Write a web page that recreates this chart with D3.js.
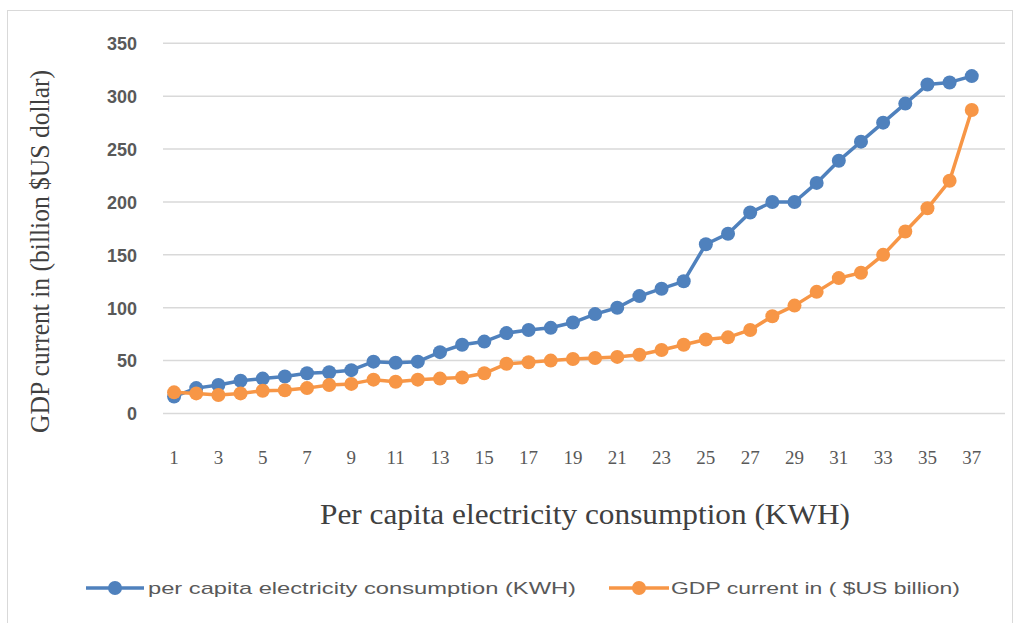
<!DOCTYPE html>
<html>
<head>
<meta charset="utf-8">
<script src="https://cdn.jsdelivr.net/npm/d3@7"></script>
<style>
  body { margin: 0; background: #fff; }
  svg { display: block; }
</style>
</head>
<body>
<div id="chart"></div>
<script>
// categories 1..37, plus the empty trailing row the spreadsheet left in
var categories = ["1","2","3","4","5","6","7","8","9","10","11","12","13","14","15","16","17","18","19",
    "20","21","22","23","24","25","26","27","28","29","30","31","32","33","34","35","36","37",""];
var electricity = [16, 24, 27, 31, 33, 35, 38, 39, 41, 49, 48, 49, 58, 65, 68, 76, 79, 81, 86, 94,
    100, 111, 118, 125, 160, 170, 190, 200, 200, 218, 239, 257, 275, 293, 311, 313, 319];
var gdp = [20, 19, 17.5, 19, 21.5, 22, 24, 27, 28, 32, 30, 32, 33, 34, 38, 47, 48.5, 50, 51.5, 52.5,
    53.5, 55.5, 60, 65, 70, 72, 79, 92, 102, 115, 128, 133, 150, 172, 194, 220, 287];
var yTicks = [0, 50, 100, 150, 200, 250, 300, 350];
var seriesNames = ["per capita electricity consumption (KWH)", "GDP current in ( $US billion)"];
var colors = ["#4f81bd", "#f79646"];

var W = 1022, H = 623;
var svg = d3.select("#chart").append("svg").attr("width", W).attr("height", H);

// chart frame
svg.append("rect").attr("x", 7.5).attr("y", 10.5).attr("width", 1005).attr("height", 620)
    .attr("fill", "#fff").attr("stroke", "#d9d9d9").attr("stroke-width", 1);

var x = d3.scaleBand().domain(categories).range([163, 1005]);
var y = d3.scaleLinear().domain([0, 350]).range([413.5, 43.3]);
var cx = function(i) { return x(categories[i]) + x.bandwidth() / 2; };

// gridlines
svg.append("g").selectAll("line").data(yTicks).enter().append("line")
    .attr("x1", 163).attr("x2", 1005)
    .attr("y1", function(d) { return y(d); }).attr("y2", function(d) { return y(d); })
    .attr("stroke", "#d9d9d9").attr("stroke-width", 1.5);

// y axis labels
var yAxis = svg.append("g").attr("transform", "translate(163,0)")
    .call(d3.axisLeft(y).tickValues(yTicks).tickSize(0).tickPadding(26));
yAxis.select(".domain").remove();
yAxis.selectAll("text").attr("fill", "#595959").attr("font-family", "Liberation Sans, Arial, sans-serif")
    .attr("font-size", "18px").attr("font-weight", "bold").attr("dy", "0.35em");

// x axis labels, every second category
var xAxis = svg.append("g").attr("transform", "translate(0,447)")
    .call(d3.axisBottom(x).tickValues(categories.filter(function(c, i) { return c !== "" && i % 2 === 0; }))
        .tickSize(0).tickPadding(4));
xAxis.select(".domain").remove();
xAxis.selectAll("text").attr("fill", "#595959").attr("font-family", "Liberation Serif, Times New Roman, serif")
    .attr("font-size", "19px");

// axis titles
svg.append("text").attr("x", 320).attr("y", 524)
    .attr("font-family", "Liberation Serif, Times New Roman, serif").attr("font-size", "29px")
    .attr("textLength", 530).attr("lengthAdjust", "spacingAndGlyphs")
    .attr("fill", "#404040").text("Per capita electricity consumption (KWH)");
svg.append("text").attr("transform", "translate(49,433) rotate(-90)")
    .attr("font-family", "Liberation Serif, Times New Roman, serif").attr("font-size", "28px")
    .attr("textLength", 363).attr("lengthAdjust", "spacingAndGlyphs")
    .attr("fill", "#404040").text("GDP current in (billion $US dollar)");

// series
var line = d3.line().x(function(d, i) { return cx(i); }).y(function(d) { return y(d); });
[electricity, gdp].forEach(function(series, k) {
    var g = svg.append("g");
    g.append("path").datum(series).attr("d", line).attr("fill", "none")
        .attr("stroke", colors[k]).attr("stroke-width", 3.5).attr("stroke-linejoin", "round");
    g.selectAll("circle").data(series).enter().append("circle")
        .attr("cx", function(d, i) { return cx(i); }).attr("cy", function(d) { return y(d); })
        .attr("r", 7).attr("fill", colors[k]);
});

// legend
var legendPos = [{x: 86, w: 58, tx: 148, tw: 428}, {x: 609, w: 60, tx: 671, tw: 289}];
legendPos.forEach(function(p, k) {
    var g = svg.append("g").attr("transform", "translate(0,588)");
    g.append("line").attr("x1", p.x).attr("x2", p.x + p.w).attr("stroke", colors[k]).attr("stroke-width", 3.5);
    g.append("circle").attr("cx", p.x + p.w / 2).attr("r", 7).attr("fill", colors[k]);
    g.append("text").attr("x", p.tx).attr("dy", "0.35em").attr("fill", "#595959")
        .attr("font-family", "Liberation Sans, Arial, sans-serif").attr("font-size", "17px")
        .attr("textLength", p.tw).attr("lengthAdjust", "spacingAndGlyphs").text(seriesNames[k]);
});
</script>
</body>
</html>
